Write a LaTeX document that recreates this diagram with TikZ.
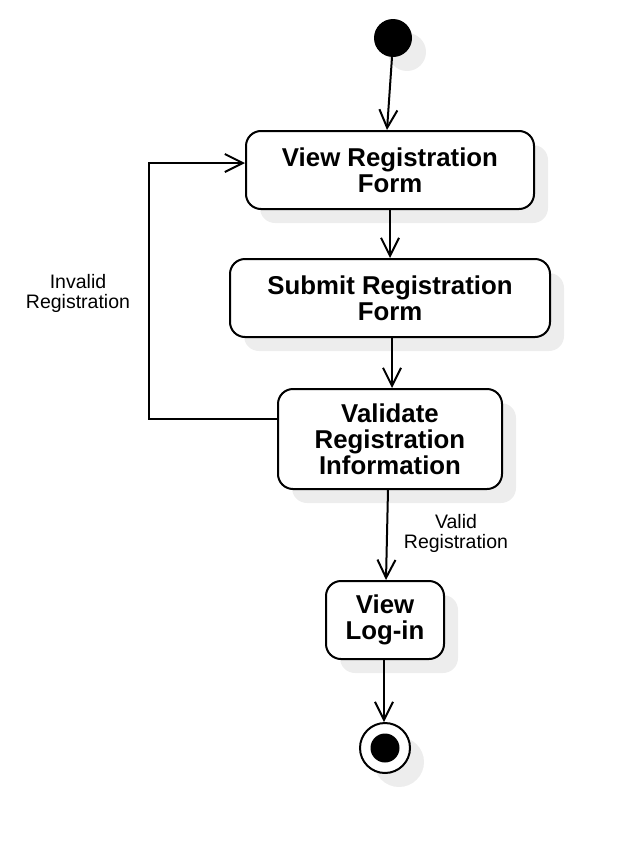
\documentclass[tikz,border=0pt]{standalone}
\usepackage{fontspec}
\setmainfont{Liberation Sans}
\usetikzlibrary{arrows.meta}
\usetikzlibrary{shadows}
\tikzset{
  activity/.style={draw, line width=2pt, rounded corners=15pt, fill=white, align=center,
    font=\bfseries\fontsize{25.8}{26}\selectfont, inner sep=0pt,
    drop shadow={shadow xshift=14pt, shadow yshift=-14pt, fill=black!7, opacity=1}},
  guard/.style={align=center, font=\fontsize{19.5}{20}\selectfont},
  flow/.style={line width=2pt, -{Straight Barb[length=18pt,width=18pt,line width=2pt]}},
}
\begin{document}
\begin{tikzpicture}[x=1pt,y=-1pt]
  \useasboundingbox (0,0) rectangle (630,854);

  \node[circle, fill=black, minimum size=38pt, inner sep=0pt,
    drop shadow={shadow xshift=14pt, shadow yshift=-14pt, fill=black!7, opacity=1}] (start) at (393,38) {};
  \node[activity, minimum width=288pt, minimum height=78pt] (viewform) at (390,170) {View Registration\\Form};
  \node[activity, minimum width=320pt, minimum height=78pt] (submitform) at (390,298) {Submit Registration\\Form};
  \node[activity, minimum width=224pt, minimum height=100pt] (validate) at (390,439) {Validate\\Registration\\Information};
  \node[activity, minimum width=118pt, minimum height=78pt] (viewlogin) at (385,620) {View\\Log-in};
  \node[circle, draw, line width=2pt, fill=white, minimum size=50pt, inner sep=0pt,
    drop shadow={shadow xshift=14pt, shadow yshift=-14pt, fill=black!7, opacity=1}] (final) at (385,748) {};
  \node[circle, fill=black, minimum size=29pt, inner sep=0pt] (finaldot) at (final.center) {};

  \node[guard] (invalid) at (78,293) {Invalid\\Registration};
  \node[guard] (valid) at (456,533) {Valid\\Registration};

  \draw[flow] ([xshift=-1pt]start.south) -- ([xshift=-3pt]viewform.north);
  \draw[flow] (viewform.south) -- (submitform.north);
  \draw[flow] ([xshift=2pt]submitform.south) -- ([xshift=2pt]validate.north);
  \draw[flow] ([xshift=-2pt]validate.south) -- ([xshift=1pt]viewlogin.north);
  \draw[flow] ([xshift=-1pt]viewlogin.south) -- ([xshift=-1pt]final.north);
  \draw[flow] ([yshift=20pt]validate.west) -- ++(-128,0) |- ([yshift=7pt]viewform.west);
\end{tikzpicture}
\end{document}
